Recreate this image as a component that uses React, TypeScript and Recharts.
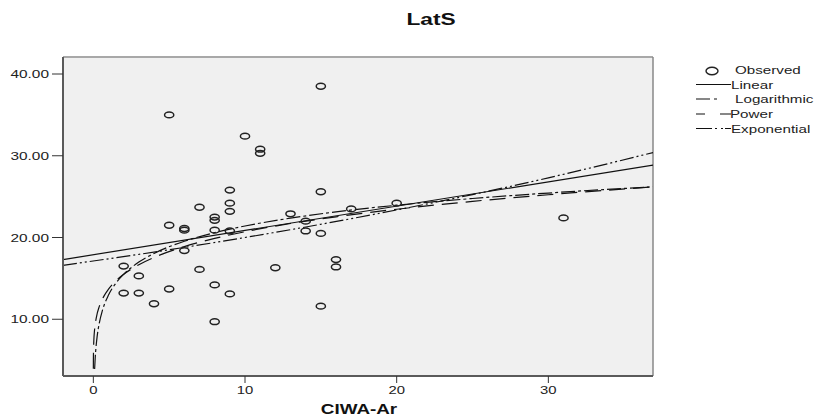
import { ComposedChart, XAxis, YAxis, Line, Scatter, ReferenceArea, ReferenceLine } from "recharts";

const X_MIN = -2;
const X_MAX = 36.9;
const Y_MIN = 3.06;
const Y_MAX = 42.08;

const xTicks = [0, 10, 20, 30];
const yTicks = [10, 20, 30, 40];

// CIWA-Ar vs LatS
const observed = [
  { x: 5, y: 35.0 }, { x: 10, y: 32.4 }, { x: 11, y: 30.8 }, { x: 11, y: 30.3 },
  { x: 9, y: 25.8 }, { x: 9, y: 24.2 }, { x: 9, y: 23.2 }, { x: 7, y: 23.7 },
  { x: 8, y: 22.5 }, { x: 8, y: 22.1 }, { x: 5, y: 21.5 }, { x: 6, y: 21.1 },
  { x: 6, y: 20.9 }, { x: 8, y: 20.9 }, { x: 9, y: 20.8 }, { x: 15, y: 38.5 },
  { x: 15, y: 25.6 }, { x: 13, y: 22.9 }, { x: 14, y: 22.0 }, { x: 14, y: 20.8 },
  { x: 15, y: 20.5 }, { x: 17, y: 23.5 }, { x: 20, y: 24.2 }, { x: 31, y: 22.4 },
  { x: 6, y: 18.4 }, { x: 2, y: 16.5 }, { x: 3, y: 15.3 }, { x: 2, y: 13.2 },
  { x: 3, y: 13.2 }, { x: 5, y: 13.7 }, { x: 4, y: 11.9 }, { x: 7, y: 16.1 },
  { x: 8, y: 14.2 }, { x: 9, y: 13.1 }, { x: 8, y: 9.7 }, { x: 12, y: 16.3 },
  { x: 16, y: 17.3 }, { x: 16, y: 16.4 }, { x: 15, y: 11.6 },
];

const linearFit = [
  { x: -2, y: 17.3 }, { x: 36.9, y: 28.86 },
];

const logFit = [
  { x: 0.085, y: 3.91 }, { x: 0.12, y: 5.18 }, { x: 0.18, y: 6.67 }, { x: 0.25, y: 7.87 },
  { x: 0.4, y: 9.6 }, { x: 0.6, y: 11.09 }, { x: 1, y: 12.96 }, { x: 1.5, y: 14.45 },
  { x: 2, y: 15.5 }, { x: 3, y: 16.99 }, { x: 4, y: 18.05 }, { x: 6, y: 19.54 },
  { x: 8, y: 20.59 }, { x: 10, y: 21.41 }, { x: 13, y: 22.37 }, { x: 16, y: 23.14 },
  { x: 20, y: 23.95 }, { x: 25, y: 24.77 }, { x: 30, y: 25.44 }, { x: 36.9, y: 26.2 },
];

const powerFit = [
  { x: 0.001, y: 3.95 }, { x: 0.003, y: 4.81 }, { x: 0.01, y: 5.97 }, { x: 0.03, y: 7.28 },
  { x: 0.08, y: 8.68 }, { x: 0.2, y: 10.24 }, { x: 0.4, y: 11.6 }, { x: 0.7, y: 12.83 },
  { x: 1, y: 13.68 }, { x: 1.5, y: 14.72 }, { x: 2, y: 15.5 }, { x: 3, y: 16.67 },
  { x: 4, y: 17.56 }, { x: 6, y: 18.89 }, { x: 8, y: 19.89 }, { x: 10, y: 20.71 },
  { x: 13, y: 21.71 }, { x: 16, y: 22.53 }, { x: 20, y: 23.46 }, { x: 25, y: 24.42 },
  { x: 30, y: 25.23 }, { x: 36.9, y: 26.19 },
];

const expFit = [
  { x: -2, y: 16.6 }, { x: 5, y: 18.5 }, { x: 10, y: 20.0 }, { x: 15, y: 21.62 },
  { x: 20, y: 23.37 }, { x: 25, y: 25.25 }, { x: 30, y: 27.3 }, { x: 36.9, y: 30.39 },
];

const FONT = "'Liberation Sans', Arial, sans-serif";

function YTick({ x, y, payload }: any) {
  return (
    <g transform={`translate(${x},${y}) scale(1.4,1)`}>
      <text x={0} y={0} dy={4} textAnchor="end" fontSize={11} fill="#222" fontFamily={FONT}>
        {Number(payload.value).toFixed(2)}
      </text>
    </g>
  );
}

function XTick({ x, y, payload }: any) {
  return (
    <g transform={`translate(${x},${y}) scale(1.35,1)`}>
      <text x={0} y={0} dy={9} textAnchor="middle" fontSize={11} fill="#222" fontFamily={FONT}>
        {payload.value}
      </text>
    </g>
  );
}

function Ring({ cx, cy }: any) {
  return <ellipse cx={cx} cy={cy} rx={4.6} ry={2.9} fill="none" stroke="#222" strokeWidth={1.5} />;
}

function Overlay() {
  const legendText = (label: string, x: number, y: number) => (
    <g transform={`translate(${x},${y}) scale(1.38,1)`}>
      <text x={0} y={0} dy={4} fontSize={11} fill="#222" fontFamily={FONT}>{label}</text>
    </g>
  );
  return (
    <svg width={814} height={419} style={{ position: "absolute", left: 0, top: 0, pointerEvents: "none" }}>
      <g transform="translate(431,25) scale(1.42,1)">
        <text textAnchor="middle" fontSize={16} fontWeight="bold" fill="#111" fontFamily={FONT}>LatS</text>
      </g>
      <g transform="translate(359,414) scale(1.3,1)">
        <text textAnchor="middle" fontSize={14.5} fontWeight="bold" fill="#111" fontFamily={FONT}>CIWA-Ar</text>
      </g>
      {/* legend */}
      <ellipse cx={712} cy={71} rx={6} ry={3.8} fill="none" stroke="#222" strokeWidth={1.4} />
      {legendText("Observed", 735, 70)}
      <line x1={696} x2={731} y1={84.5} y2={84.5} stroke="#111" strokeWidth={1.2} />
      {legendText("Linear", 731, 84.5)}
      <line x1={696} x2={718} y1={99} y2={99} stroke="#111" strokeWidth={1.2} strokeDasharray="14 4 3 100" />
      {legendText("Logarithmic", 735, 99)}
      <line x1={696} x2={731} y1={114} y2={114} stroke="#111" strokeWidth={1.2} strokeDasharray="9 15 11 100" />
      {legendText("Power", 730, 114)}
      <line x1={696} x2={731} y1={128.5} y2={128.5} stroke="#111" strokeWidth={1.2} strokeDasharray="16 3 2 4 2 2 8 100" />
      {legendText("Exponential", 731, 128.5)}
    </svg>
  );
}

export default function App() {
  return (
    <div style={{ position: "absolute", left: 0, top: 0, width: 814, height: 419, background: "#fff" }}>
      <ComposedChart width={814} height={419} margin={{ top: 57, right: 161, bottom: 13, left: 8 }}>
        <XAxis
          type="number"
          dataKey="x"
          domain={[X_MIN, X_MAX]}
          ticks={xTicks}
          allowDataOverflow
          height={30}
          tickSize={7}
          tickMargin={2}
          tick={<XTick />}
          tickLine={{ stroke: "#333" }}
          axisLine={{ stroke: "#5a5a5a", strokeWidth: 2 }}
        />
        <YAxis
          type="number"
          dataKey="y"
          domain={[Y_MIN, Y_MAX]}
          ticks={yTicks}
          allowDataOverflow
          width={55}
          tickSize={11}
          tickMargin={3}
          tick={<YTick />}
          tickLine={{ stroke: "#333" }}
          axisLine={{ stroke: "#5a5a5a", strokeWidth: 2 }}
        />
        {/* plot background + frame */}
        <ReferenceArea x1={X_MIN} x2={X_MAX} y1={Y_MIN} y2={Y_MAX} fill="#f0f0f0" fillOpacity={1} stroke="none" />
        <ReferenceLine y={Y_MAX} stroke="#a8a8a8" strokeWidth={2} />
        <ReferenceLine x={X_MAX} stroke="#888" strokeWidth={1.5} />

        <Line data={linearFit} dataKey="y" type="linear" stroke="#111" strokeWidth={1.2} dot={false} isAnimationActive={false} />
        <Line data={logFit} dataKey="y" type="monotone" stroke="#111" strokeWidth={1.2} strokeDasharray="14 3 3 3" dot={false} isAnimationActive={false} />
        <Line data={powerFit} dataKey="y" type="monotone" stroke="#111" strokeWidth={1.2} strokeDasharray="16 8" dot={false} isAnimationActive={false} />
        <Line data={expFit} dataKey="y" type="monotone" stroke="#111" strokeWidth={1.2} strokeDasharray="14 3 2 3 2 3" dot={false} isAnimationActive={false} />
        <Scatter data={observed} dataKey="y" shape={<Ring />} isAnimationActive={false} />
      </ComposedChart>
      <Overlay />
    </div>
  );
}
